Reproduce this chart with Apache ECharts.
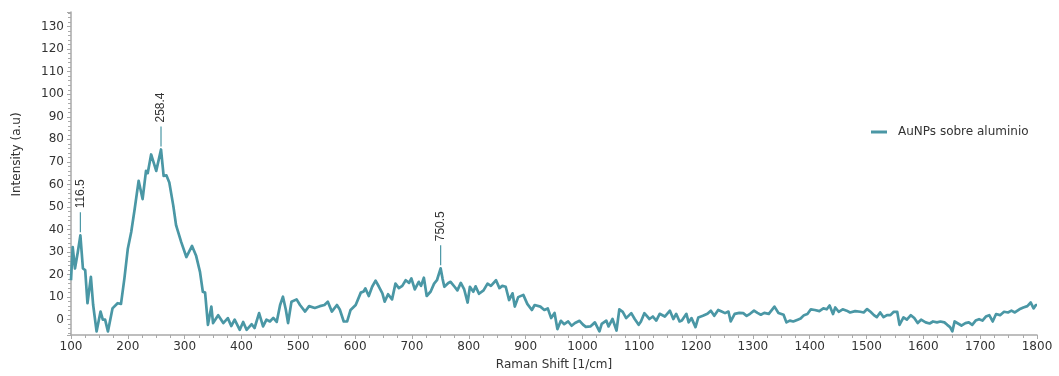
<!DOCTYPE html>
<html>
<head>
<meta charset="utf-8">
<title>Raman spectrum</title>
<script src="https://cdn.jsdelivr.net/npm/echarts@6.0.0/dist/echarts.min.js"></script>
<style>
  html, body { margin: 0; padding: 0; background: #ffffff; }
  #chart { width: 1059px; height: 376px; }
</style>
</head>
<body>
<div id="chart"></div>
<script>
// Raman shift (1/cm) and measured intensity (a.u.)
const shifts = [
  100, 103, 107, 112, 116.5, 121, 125, 129, 135, 139, 145, 152, 156, 160, 165, 173, 182, 188, 194,
  200, 206, 212, 219, 226, 232, 235, 241, 250, 258.4, 263, 268, 273, 280, 285, 294,
  303, 313, 320, 327, 332, 336, 341, 347, 350, 359, 368, 376, 382, 388, 397,
  403, 409, 418, 423, 431, 438, 444, 450, 456, 462, 468, 473, 478, 482, 488, 497,
  503, 512, 519, 529, 538, 546, 552, 559, 568, 573, 580, 586, 592,
  601, 610, 615, 618, 624, 630, 636, 642, 648, 652, 658, 665, 671, 677, 683, 689, 695, 699,
  705, 712, 716, 721, 726, 733, 739, 744, 750.5, 754, 757, 764, 768, 775, 780, 786, 792, 798,
  802, 808, 812, 818, 826, 833, 839, 848, 854, 859, 865, 871, 877, 881, 887, 896,
  903, 911, 916, 926, 933, 939, 945, 951, 956, 962, 968, 975, 981, 987, 995,
  1001, 1006, 1014, 1022, 1030, 1034, 1042, 1046, 1053, 1060, 1065, 1071, 1077, 1086, 1092, 1099,
  1103, 1109, 1118, 1124, 1130, 1136, 1145, 1154, 1160, 1165, 1171, 1175, 1183, 1187, 1192, 1199,
  1204, 1212, 1220, 1226, 1232, 1239, 1245, 1251, 1257, 1261, 1268, 1276, 1283, 1289, 1295,
  1302, 1308, 1314, 1320, 1328, 1338, 1345, 1354, 1359, 1365, 1371, 1379, 1384, 1390, 1396,
  1402, 1409, 1417, 1424, 1430, 1435, 1441, 1445, 1451, 1458, 1465, 1471, 1480, 1489, 1495,
  1501, 1507, 1513, 1518, 1524, 1530, 1536, 1542, 1548, 1554, 1558, 1565, 1571, 1578, 1584, 1590, 1596,
  1604, 1611, 1617, 1624, 1630, 1637, 1642, 1647, 1651, 1655, 1661, 1667, 1674, 1680, 1686, 1692, 1698,
  1704, 1710, 1716, 1722, 1728, 1735, 1742, 1749, 1755, 1761, 1769, 1776, 1783, 1789, 1794, 1798, 1800
];

const intensities = [
  17.5, 32.2, 22.7, 30, 37.4, 22.7, 22, 7.3, 19, 6.5, -5.2, 3.6, 0, 0, -5.2, 5, 7.3, 7, 18.3,
  31.5, 38.9, 49, 61.6, 53.5, 66, 65, 73.3, 66, 75.5, 63.8, 64, 60.9, 50.6, 41.8, 34.4,
  27.8, 32.7, 28.5, 21.2, 12.4, 12, -2.3, 5.8, -1.5, 2, -1.5, 0.7, -2.8, 0, -4.5,
  -1, -4.5, -2, -3.7, 2.9, -3, 0, -0.8, 0.8, -1, 6.5, 10.2, 4.5, -1.5, 8, 9,
  6.5, 3.6, 6, 5.2, 6, 6.5, 8, 3.6, 6.5, 4.5, -0.8, -0.8, 4.3,
  6.5, 12, 12.5, 13.9, 10.5, 14.6, 17.3, 14.6, 11.7, 8, 11.3, 9, 16, 14, 15, 17.5, 16.3, 18.3,
  13.4, 16.8, 15, 18.6, 10.5, 12.5, 16, 17.5, 22.8, 18, 14.6, 16.3, 16.8, 14.6, 13, 16.3, 13.4, 7.6,
  14.6, 12.4, 14.8, 11.5, 13, 16, 15, 17.5, 14, 15, 14.6, 8.7, 11.7, 5.8, 10, 11,
  7, 4.3, 6.5, 5.8, 4.3, 5, 0.7, 3, -4.2, -0.5, -2, -0.8, -2.7, -1.5, -0.5,
  -2.2, -3.2, -3, -1.2, -5.2, -1.9, -0.4, -3, 0.3, -4.8, 4.6, 3.5, 0.7, 2.9, 0.3, -2.3,
  -0.8, 2.9, 0.3, 1.4, -0.4, 2.6, 1.4, 4, 0.3, 2.6, -0.8, -0.4, 2.6, -1.2, 0.7, -3.3,
  1, 1.7, 2.6, 4, 1.7, 4.3, 3.6, 2.9, 3.6, -0.8, 2.6, 3, 2.9, 1.7, 2.6,
  4, 3, 2.2, 3, 2.6, 5.8, 3, 2.2, -1.2, -0.4, -0.8, 0, 0.5, 2, 2.5,
  4.6, 4.3, 3.8, 5, 4.6, 6.3, 2.5, 5.4, 3.5, 4.6, 4, 3.2, 3.8, 3.5, 3.2,
  4.7, 3.5, 2, 1.1, 3.2, 1.1, 2, 2, 3.5, 3.5, -2.3, 1, 0, 2, 0.7, -1.5, 0,
  -1.2, -1.7, -0.8, -1.2, -0.8, -1.2, -2.3, -3.3, -5.2, -0.8, -1.7, -2.6, -1.5, -1.2, -2.3, -0.4, 0.2,
  -0.4, 1.4, 2, -0.8, 2.5, 2, 3.5, 3.2, 4, 3.2, 4.6, 5.4, 6, 7.6, 5, 6.5, 6.5
];

// Annotated band positions (1/cm)
const peakShifts = [116.5, 258.4, 750.5];

const seriesName = 'AuNPs sobre aluminio';
const lineColor = '#4a97a5';

const points = shifts.map((x, i) => [x, intensities[i]]);
const peakMarks = peakShifts.map(x => ({
  name: String(x),
  coord: [x, intensities[shifts.indexOf(x)]]
}));

const axisGrey = '#a9a9a9';
const textColor = '#333333';
const font = 'DejaVu Sans, Verdana, sans-serif';

const chart = echarts.init(document.getElementById('chart'), null, { renderer: 'canvas' });

chart.setOption({
  animation: false,
  backgroundColor: '#ffffff',
  grid: { left: 71, right: 22, top: 12, bottom: 39, containLabel: false },
  legend: {
    left: 866,
    top: 121,
    itemWidth: 16,
    itemHeight: 14,
    textStyle: { fontFamily: font, fontSize: 12, color: textColor, padding: [0, 0, 0, 6] },
    data: [{ name: seriesName, icon: 'path://M0,6 L16,6 L16,9 L0,9 Z' }]
  },
  xAxis: {
    type: 'value',
    min: 100,
    max: 1800,
    interval: 100,
    name: 'Raman Shift [1/cm]',
    nameLocation: 'middle',
    nameGap: 24,
    nameTextStyle: { fontFamily: font, fontSize: 12, color: textColor },
    splitLine: { show: false },
    axisLine: { onZero: false, lineStyle: { color: axisGrey, width: 1.5 } },
    axisTick: { length: 4, lineStyle: { color: axisGrey } },
    minorTick: { show: true, splitNumber: 4, length: 3, lineStyle: { color: axisGrey } },
    axisLabel: {
      fontFamily: font, fontSize: 12, color: textColor, margin: 6,
      formatter: v => String(v)
    }
  },
  yAxis: {
    type: 'value',
    min: -6.8,
    max: 136.5,
    splitNumber: 14,
    name: 'Intensity (a.u)',
    nameLocation: 'middle',
    nameGap: 48,
    nameTextStyle: { fontFamily: font, fontSize: 12, color: textColor, padding: [0, 0, 0, 38] },
    splitLine: { show: false },
    axisLine: { show: true, lineStyle: { color: axisGrey, width: 1.5 } },
    axisTick: { show: true, length: 4, lineStyle: { color: axisGrey } },
    minorTick: { show: true, splitNumber: 5, length: 3, lineStyle: { color: axisGrey } },
    axisLabel: {
      fontFamily: font, fontSize: 12, color: textColor, margin: 7,
      showMinLabel: false, showMaxLabel: false,
      formatter: v => (Math.abs(v % 10) < 1e-9 ? String(v) : '')
    }
  },
  series: [{
    name: seriesName,
    type: 'line',
    data: points,
    showSymbol: false,
    symbol: 'none',
    color: lineColor,
    lineStyle: { color: lineColor, width: 2.7, join: 'round' },
    markPoint: {
      symbol: 'rect',
      symbolSize: [1.2, 20],
      symbolOffset: [0, -13],
      itemStyle: { color: lineColor },
      label: {
        show: true,
        formatter: '{b}',
        position: 'top',
        distance: 4,
        rotate: 90,
        align: 'left',
        verticalAlign: 'middle',
        fontFamily: 'Liberation Sans, Arial, sans-serif',
        fontSize: 12,
        color: textColor
      },
      data: peakMarks
    }
  }]
});
</script>
</body>
</html>
